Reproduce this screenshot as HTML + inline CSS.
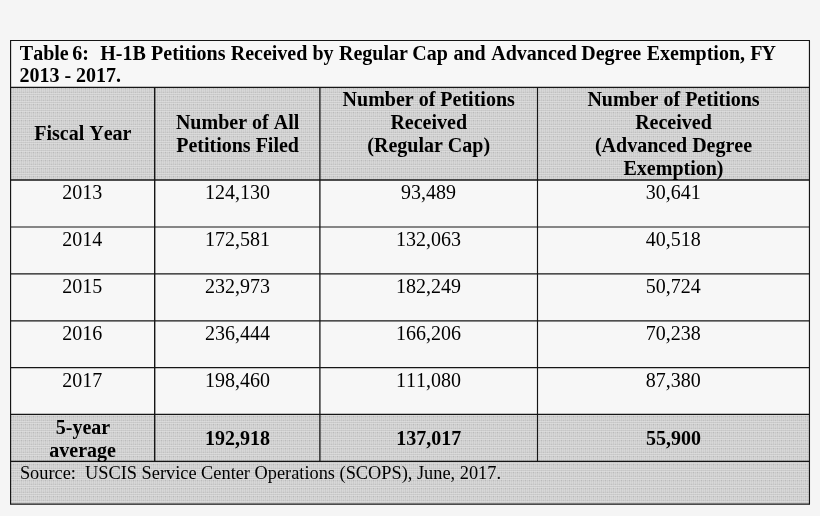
<!DOCTYPE html>
<html><head><meta charset="utf-8"><title>Table 6</title>
<style>
html,body{margin:0;padding:0;background:#f5f5f5;}
svg{display:block;position:absolute;left:0;top:0}
text{font-family:"Liberation Serif","Times New Roman",serif;font-size:20px;fill:#000;font-kerning:none;font-variant-ligatures:none}
.b{font-weight:bold}
.m{text-anchor:middle}
.s{font-size:18.33px}
</style></head><body>
<svg width="820" height="516" viewBox="0 0 820 516">
<defs>
<pattern id="p" width="4" height="8" patternUnits="userSpaceOnUse" x="0" y="6" shape-rendering="crispEdges">
<rect x="0" y="0" width="1" height="1" fill="#cccccc"/><rect x="1" y="0" width="1" height="1" fill="#c6c6c6"/><rect x="2" y="0" width="1" height="1" fill="#cccccc"/><rect x="3" y="0" width="1" height="1" fill="#c8c8c8"/><rect x="0" y="1" width="1" height="1" fill="#dcdcdc"/><rect x="1" y="1" width="1" height="1" fill="#d6d6d6"/><rect x="2" y="1" width="1" height="1" fill="#dcdcdc"/><rect x="3" y="1" width="1" height="1" fill="#d8d8d8"/><rect x="0" y="2" width="1" height="1" fill="#d0d0d0"/><rect x="1" y="2" width="1" height="1" fill="#bababa"/><rect x="2" y="2" width="1" height="1" fill="#d0d0d0"/><rect x="3" y="2" width="1" height="1" fill="#c8c8c8"/><rect x="0" y="3" width="1" height="1" fill="#d6d6d6"/><rect x="1" y="3" width="1" height="1" fill="#cacaca"/><rect x="2" y="3" width="1" height="1" fill="#d6d6d6"/><rect x="3" y="3" width="1" height="1" fill="#cccccc"/><rect x="0" y="4" width="1" height="1" fill="#d8d8d8"/><rect x="1" y="4" width="1" height="1" fill="#cccccc"/><rect x="2" y="4" width="1" height="1" fill="#d8d8d8"/><rect x="3" y="4" width="1" height="1" fill="#d0d0d0"/><rect x="0" y="5" width="1" height="1" fill="#d6d6d6"/><rect x="1" y="5" width="1" height="1" fill="#cacaca"/><rect x="2" y="5" width="1" height="1" fill="#d6d6d6"/><rect x="3" y="5" width="1" height="1" fill="#cecece"/><rect x="0" y="6" width="1" height="1" fill="#cecece"/><rect x="1" y="6" width="1" height="1" fill="#c6c6c6"/><rect x="2" y="6" width="1" height="1" fill="#cecece"/><rect x="3" y="6" width="1" height="1" fill="#c0c0c0"/><rect x="0" y="7" width="1" height="1" fill="#dcdcdc"/><rect x="1" y="7" width="1" height="1" fill="#d6d6d6"/><rect x="2" y="7" width="1" height="1" fill="#dcdcdc"/><rect x="3" y="7" width="1" height="1" fill="#d8d8d8"/>
</pattern>
</defs>
<rect width="820" height="516" fill="#f5f5f5"/>
<rect x="10.5" y="40.5" width="799" height="47" fill="#f7f7f7"/>
<rect x="10.58" y="87.35" width="798.87" height="92.55000000000001" fill="url(#p)"/>
<rect x="10.58" y="179.9" width="798.87" height="234.54999999999998" fill="#f7f7f7"/>
<rect x="10.58" y="414.45" width="798.87" height="89.75" fill="url(#p)"/>
<g stroke="#161616" fill="none">
<line x1="10.08" y1="40.5" x2="809.95" y2="40.5" stroke-width="1.2"/>
<line x1="10.08" y1="87.35" x2="809.95" y2="87.35" stroke-width="1.3"/>
<line x1="10.08" y1="179.9" x2="809.95" y2="179.9" stroke-width="1.5"/>
<line x1="10.08" y1="227.0" x2="809.95" y2="227.0" stroke-width="1.2"/>
<line x1="10.08" y1="273.95" x2="809.95" y2="273.95" stroke-width="1.2"/>
<line x1="10.08" y1="320.85" x2="809.95" y2="320.85" stroke-width="1.2"/>
<line x1="10.08" y1="367.55" x2="809.95" y2="367.55" stroke-width="1.2"/>
<line x1="10.08" y1="414.45" x2="809.95" y2="414.45" stroke-width="1.3"/>
<line x1="10.08" y1="461.4" x2="809.95" y2="461.4" stroke-width="1.3"/>
<line x1="10.08" y1="504.2" x2="809.95" y2="504.2" stroke-width="1.25"/>
<line x1="10.58" y1="40.5" x2="10.58" y2="504.2" stroke-width="1.15"/>
<line x1="154.7" y1="87.35" x2="154.7" y2="461.4" stroke-width="1.4"/>
<line x1="319.9" y1="87.35" x2="319.9" y2="461.4" stroke-width="1.3"/>
<line x1="537.5" y1="87.35" x2="537.5" y2="461.4" stroke-width="1.15"/>
<line x1="809.45" y1="40.5" x2="809.45" y2="504.2" stroke-width="1.15"/>
</g>
<text y="59.6" class="b" style="font-size:20px"><tspan x="19.8">Table </tspan><tspan x="72.3">6: </tspan><tspan x="100.2">H-1B </tspan><tspan x="151.1">Petitions </tspan><tspan x="230.7">Received </tspan><tspan x="312.5">by </tspan><tspan x="339.0">Regular </tspan><tspan x="412.2">Cap </tspan><tspan x="453.4">and </tspan><tspan x="491.2">Advanced </tspan><tspan x="581.2">Degree </tspan><tspan x="646.7">Exemption, </tspan><tspan x="750.2">F</tspan><tspan x="761.5">Y</tspan></text>
<text x="19.4" y="82.3" class="b">2013 - 2017.</text>
<text x="82.85" y="140.4" class="b m">Fiscal Year</text>
<text x="237.6" y="129.0" class="b m">Number of All</text>
<text x="237.6" y="152.0" class="b m">Petitions Filed</text>
<text x="428.7" y="106.4" class="b m">Number of Petitions</text>
<text x="428.7" y="129.4" class="b m">Received</text>
<text x="428.7" y="152.4" class="b m">(Regular Cap)</text>
<text x="673.5" y="106.4" class="b m">Number of Petitions</text>
<text x="673.5" y="129.4" class="b m">Received</text>
<text x="673.5" y="152.4" class="b m">(Advanced Degree</text>
<text x="673.5" y="175.4" class="b m">Exemption)</text>
<text x="82.3" y="199.1" class="m">2013</text>
<text x="237.4" y="199.1" class="m">124,130</text>
<text x="428.5" y="199.1" class="m">93,489</text>
<text x="673.3" y="199.1" class="m">30,641</text>
<text x="82.3" y="245.9" class="m">2014</text>
<text x="237.4" y="245.9" class="m">172,581</text>
<text x="428.5" y="245.9" class="m">132,063</text>
<text x="673.3" y="245.9" class="m">40,518</text>
<text x="82.3" y="292.8" class="m">2015</text>
<text x="237.4" y="292.8" class="m">232,973</text>
<text x="428.5" y="292.8" class="m">182,249</text>
<text x="673.3" y="292.8" class="m">50,724</text>
<text x="82.3" y="339.6" class="m">2016</text>
<text x="237.4" y="339.6" class="m">236,444</text>
<text x="428.5" y="339.6" class="m">166,206</text>
<text x="673.3" y="339.6" class="m">70,238</text>
<text x="82.3" y="386.5" class="m">2017</text>
<text x="237.4" y="386.5" class="m">198,460</text>
<text x="428.5" y="386.5" class="m">111,080</text>
<text x="673.3" y="386.5" class="m">87,380</text>
<text x="83.0" y="434.1" class="b m">5-year</text>
<text x="82.6" y="457.0" class="b m">average</text>
<text x="237.6" y="445.4" class="b m">192,918</text>
<text x="428.7" y="445.4" class="b m">137,017</text>
<text x="673.5" y="445.4" class="b m">55,900</text>
<text x="19.9" y="478.5" class="s">Source:  USCIS Service Center Operations (SCOPS), June, 2017.</text>
</svg>
</body></html>
